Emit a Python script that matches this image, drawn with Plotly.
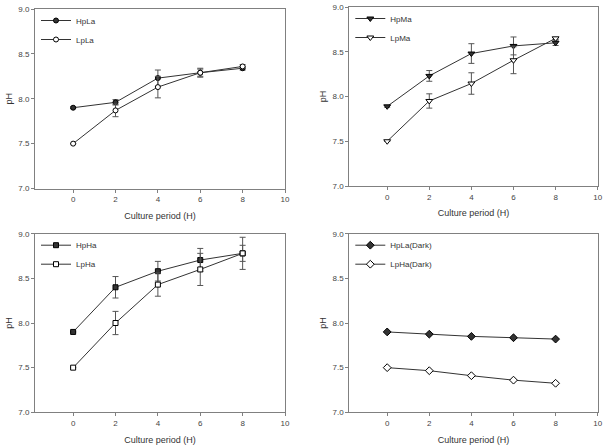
import plotly.graph_objects as go

hours = [0, 2, 4, 6, 8]

hpla = [7.90, 7.96, 8.23, 8.29, 8.34]
hpla_err = [0.01, 0.03, 0.09, 0.04, 0.02]
lpla = [7.50, 7.87, 8.13, 8.29, 8.36]
lpla_err = [0.0, 0.07, 0.12, 0.05, 0.02]

hpma = [7.89, 8.23, 8.48, 8.565, 8.60]
hpma_err = [0.01, 0.06, 0.11, 0.10, 0.03]
lpma = [7.50, 7.95, 8.145, 8.405, 8.65]
lpma_err = [0.0, 0.08, 0.12, 0.15, 0.01]

hpha = [7.90, 8.40, 8.58, 8.705, 8.78]
hpha_err = [0.0, 0.12, 0.11, 0.13, 0.09]
lpha = [7.50, 8.00, 8.43, 8.60, 8.78]
lpha_err = [0.0, 0.13, 0.13, 0.18, 0.18]

hpla_dark = [7.90, 7.875, 7.85, 7.835, 7.82]
lpha_dark = [7.50, 7.466, 7.41, 7.36, 7.325]

x_ticks = [0, 2, 4, 6, 8, 10]
y_ticks = [7.0, 7.5, 8.0, 8.5, 9.0]
x_title = "Culture period (H)"
y_title = "pH"

W, H = 605, 446
FONT = "Liberation Sans, Arial, sans-serif"
LINE = "#333333"
AX = "#808080"

def px_x(p):
    return p / W

def px_y(p):
    return 1 - p / H

panels = [
    # (x0, x1, ytop, ybottom) in pixels
    (35, 285, 9, 188.5),
    (349.3, 597.7, 7, 186),
    (35, 285, 233.7, 412.3),
    (349.3, 597.7, 233.7, 412.3),
]

series = [
    [("HpLa", hpla, hpla_err, "circle", LINE), ("LpLa", lpla, lpla_err, "circle", "white")],
    [("HpMa", hpma, hpma_err, "triangle-down", LINE), ("LpMa", lpma, lpma_err, "triangle-down", "white")],
    [("HpHa", hpha, hpha_err, "square", LINE), ("LpHa", lpha, lpha_err, "square", "white")],
    [("HpLa(Dark)", hpla_dark, None, "diamond", LINE), ("LpHa(Dark)", lpha_dark, None, "diamond", "white")],
]
sizes = {"circle": 5, "triangle-down": 6, "square": 5, "diamond": 6}

fig = go.Figure()
layout = dict(
    width=W, height=H,
    margin=dict(l=0, r=0, t=0, b=0),
    paper_bgcolor="white", plot_bgcolor="white",
    font=dict(family=FONT, size=8, color="#444444"),
)

for i, (x0, x1, yt, yb) in enumerate(panels):
    n = "" if i == 0 else str(i + 1)
    xa = "x" + n
    ya = "y" + n
    leg = "legend" + n
    for name, vals, err, sym, fill in series[i]:
        tr = go.Scatter(
            x=hours, y=vals, name=name, mode="lines+markers",
            xaxis=xa, yaxis=ya, legend=leg,
            line=dict(color=LINE, width=1),
            marker=dict(symbol=sym, size=sizes[sym],
                        color=fill, line=dict(color="black", width=1)),
        )
        if err is not None:
            tr.error_y = dict(type="data", array=err, visible=True,
                              color="#555555", thickness=1, width=3)
        fig.add_trace(tr)
    layout["xaxis" + n] = dict(
        domain=[px_x(x0), px_x(x1)], anchor=ya, range=[-1.8, 10],
        tickvals=x_ticks, ticks="outside", ticklen=3, tickcolor=AX,
        showline=True, linecolor=AX, linewidth=1, mirror=True,
        showgrid=False, zeroline=False, automargin=False,
        ticklabeloverflow="allow",
        title=dict(text=x_title, font=dict(size=9, color="#333333"), standoff=9),
        tickfont=dict(size=8),
    )
    layout["yaxis" + n] = dict(
        domain=[px_y(yb), px_y(yt)], anchor=xa, range=[7.0, 9.0],
        tickvals=y_ticks, tickformat=".1f", ticks="outside", ticklen=3, tickcolor=AX,
        showline=True, linecolor=AX, linewidth=1, mirror=True,
        showgrid=False, zeroline=False, automargin=False,
        ticklabeloverflow="allow",
        title=dict(text=y_title, font=dict(size=9, color="#333333"), standoff=4),
        tickfont=dict(size=8),
    )
    layout[leg] = dict(
        x=px_x(x0 + 1), y=px_y(yt - 3), xanchor="left", yanchor="top",
        bgcolor="rgba(0,0,0,0)", font=dict(size=8, color="#333333"),
        tracegroupgap=0, itemwidth=30,
    )

fig.update_layout(**layout)
fig.write_html("out.html", config={"displayModeBar": False},
               post_script="document.body.style.margin='0';")
